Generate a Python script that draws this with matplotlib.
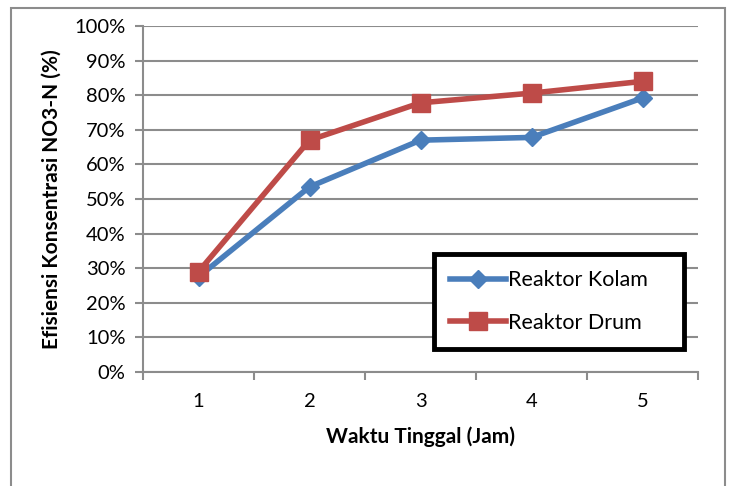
import matplotlib.pyplot as plt
import numpy as np
from matplotlib.patches import Rectangle

waktu = [1, 2, 3, 4, 5]
kolam = [27.5, 53.5, 67.0, 67.8, 79.2]
drum = [29.0, 67.0, 77.8, 80.6, 84.0]

plt.rcParams['font.family'] = ['Lato', 'DejaVu Sans']

fig = plt.figure(figsize=(7.31, 4.86), dpi=100)
ax = fig.add_axes([143 / 731, 1 - 372 / 486, (698 - 143) / 731, (372 - 26) / 486])

# figure border
fig.patches.append(Rectangle((11 / 731, -0.05), (725 - 11) / 731, 1 - 8 / 486 + 0.05,
                             transform=fig.transFigure, fill=False, edgecolor="#8c8c8c", lw=1.5))

x = np.array(waktu)
ax.plot(x, kolam, color="#4a7ebb", lw=4, marker="D", ms=9, label="Reaktor Kolam")
ax.plot(x, drum, color="#be4b48", lw=4, marker="s", ms=13, label="Reaktor Drum")

ax.set_xlim(0.5, 5.5)
ax.set_ylim(0, 100)
ax.set_yticks(np.arange(0, 101, 10))
ax.set_yticklabels([f"{v}%" for v in range(0, 101, 10)])
ax.set_xticks(np.arange(0.5, 5.6, 1))
ax.set_xticklabels([])
ax.set_xticks(x, minor=True)
ax.set_xticklabels([str(v) for v in waktu], minor=True)
ax.tick_params(axis="x", which="minor", length=0, pad=15, labelsize=14.5)
ax.tick_params(axis="x", which="major", length=5.5, color="#8c8c8c", width=1.5)
ax.tick_params(axis="y", length=5.5, color="#8c8c8c", width=1.5, labelsize=14.5, pad=7)

ax.grid(axis="y", color="#8c8c8c", lw=1.5)
ax.set_axisbelow(True)
for s in ["top", "right"]:
    ax.spines[s].set_visible(False)
for s in ["left", "bottom"]:
    ax.spines[s].set_color("#8c8c8c")
    ax.spines[s].set_linewidth(1.5)

ax.set_xlabel("Waktu Tinggal (Jam)", fontsize=15, fontweight="bold", labelpad=12)
ax.set_ylabel("Efisiensi Konsentrasi NO3-N (%)", fontsize=15, fontweight="bold", labelpad=9)

leg = ax.legend(loc="lower left", bbox_to_anchor=((434 - 143) / 555, (372 - 349) / 346, 250 / 555, 86 / 346),
                mode="expand", fancybox=False, fontsize=15.5, handlelength=2.6, handletextpad=0.1,
                labelspacing=1.05, borderaxespad=0, borderpad=0.75, framealpha=1)
leg.get_frame().set_edgecolor("black")
leg.get_frame().set_linewidth(3.5)

fig.savefig("out.png", dpi=100)
